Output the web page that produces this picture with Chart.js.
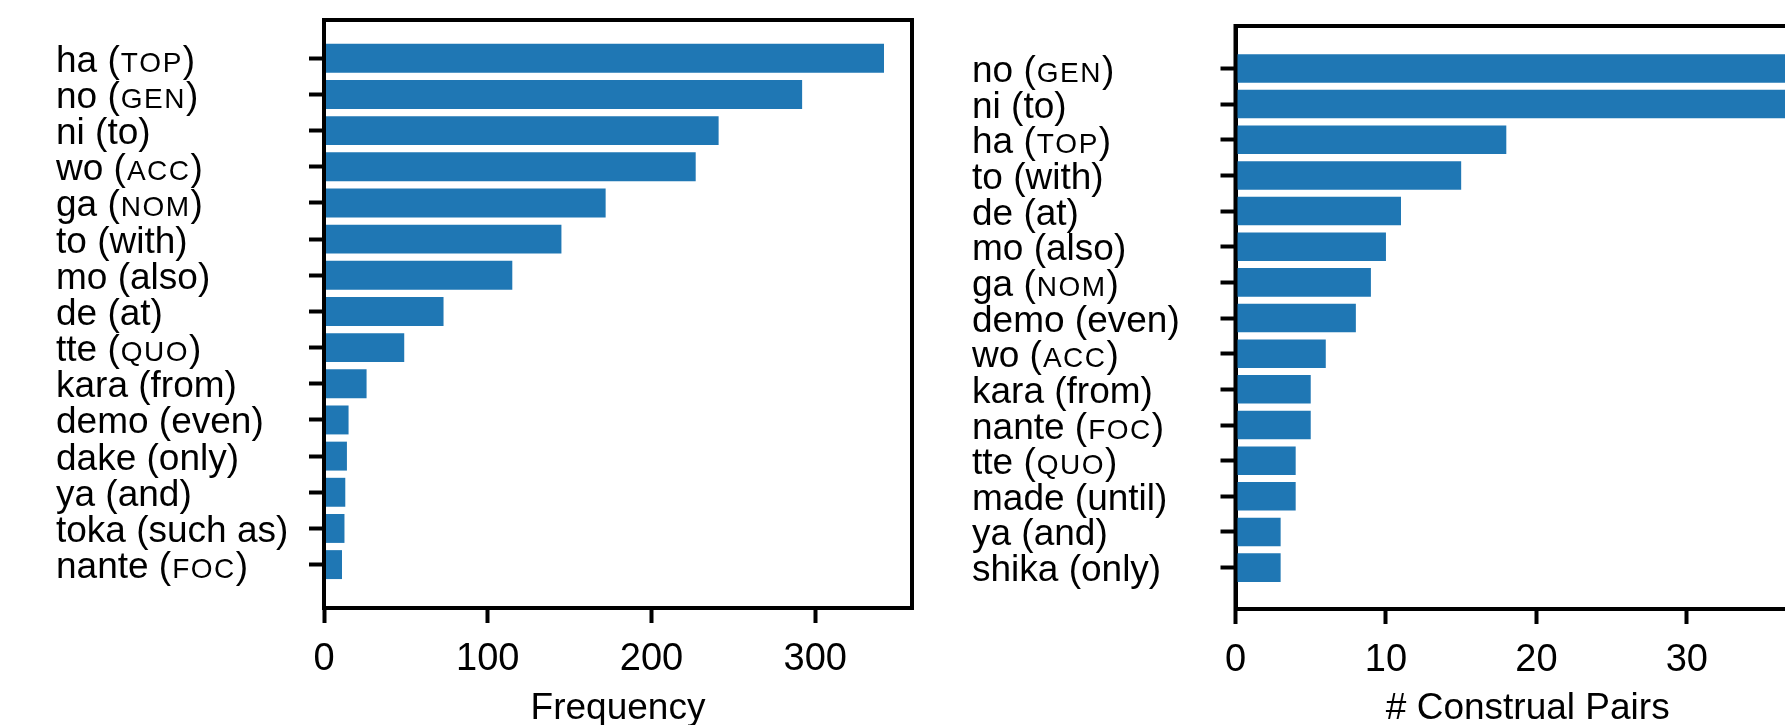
<!DOCTYPE html>
<html>
<head>
<meta charset="utf-8">
<script src="https://cdn.jsdelivr.net/npm/chart.js@4.4.1/dist/chart.umd.min.js"></script>
<style>
    html, body { margin: 0; padding: 0; background: #fff; overflow: hidden; width: 1785px; height: 725px; }
    canvas { position: absolute; top: 0; }
    #freqChart { left: 0; }
    #pairChart { left: 940px; }
</style>
</head>
<body>
<canvas id="freqChart" width="940" height="731"></canvas>
<canvas id="pairChart" width="940" height="731"></canvas>
<script>
// --- DATA ---
const freqLabels = ['ha (TOP)', 'no (GEN)', 'ni (to)', 'wo (ACC)', 'ga (NOM)', 'to (with)', 'mo (also)', 'de (at)',
    'tte (QUO)', 'kara (from)', 'demo (even)', 'dake (only)', 'ya (and)', 'toka (such as)', 'nante (FOC)'];
const freqValues = [342, 292, 241, 227, 172, 145, 115, 73, 49, 26, 15, 14, 13, 12.5, 11];
const freqTicks = [0, 100, 200, 300];

const pairLabels = ['no (GEN)', 'ni (to)', 'ha (TOP)', 'to (with)', 'de (at)', 'mo (also)', 'ga (NOM)', 'demo (even)',
    'wo (ACC)', 'kara (from)', 'nante (FOC)', 'tte (QUO)', 'made (until)', 'ya (and)', 'shika (only)'];
const pairValues = [37, 37, 18, 15, 11, 10, 9, 8, 6, 5, 5, 4, 4, 3, 3];
const pairTicks = [0, 10, 20, 30];

const FONT = '"Liberation Sans", Arial, Helvetica, sans-serif';
Chart.defaults.font.family = FONT;
Chart.defaults.color = '#000';

// labels with small caps for the glosses (upper-case runs drawn smaller, a bit tracked)
const smallCapsLabels = {
    id: 'smallCapsLabels',
    afterDraw(chart, args, opts) {
        const ctx = chart.ctx;
        const yScale = chart.scales.y;
        ctx.save();
        ctx.fillStyle = '#000';
        ctx.textBaseline = 'alphabetic';
        ctx.textAlign = 'left';
        opts.labels.forEach((label, i) => {
            let x = opts.x;
            const y = yScale.getPixelForValue(i) + 13.5;
            label.split(/([A-Z]+)/).forEach((part, k) => {
                if (!part) return;
                if (k % 2 === 1) {
                    ctx.font = '28px ' + FONT;
                    x += 1;
                    for (const ch of part) {
                        ctx.fillText(ch, x, y);
                        x += ctx.measureText(ch).width + 1.5;
                    }
                } else {
                    ctx.font = '37px ' + FONT;
                    ctx.fillText(part, x, y);
                    x += ctx.measureText(part).width;
                }
            });
        });
        ctx.restore();
    }
};

// full box around the plot, drawn over the bars
const frameBox = {
    id: 'frameBox',
    afterDatasetsDraw(chart) {
        const a = chart.chartArea;
        const ctx = chart.ctx;
        ctx.save();
        ctx.strokeStyle = '#000';
        ctx.lineWidth = 4;
        ctx.strokeRect(a.left, a.top, a.right - a.left, a.bottom - a.top);
        ctx.restore();
    }
};

function makeChart(id, labels, values, xTicks, xTitle, g) {
    new Chart(document.getElementById(id), {
        type: 'bar',
        data: {
            datasets: [{
                data: values.map((v, i) => ({ x: v, y: i })),
                backgroundColor: '#1f77b4',
                borderWidth: 0,
                barPercentage: 0.8,
                categoryPercentage: 1.0
            }]
        },
        options: {
            indexAxis: 'y',
            responsive: false,
            animation: false,
            devicePixelRatio: 1,
            layout: { padding: { top: g.top, right: g.right, left: 0, bottom: 0 } },
            plugins: {
                legend: { display: false },
                tooltip: { enabled: false },
                smallCapsLabels: { labels: labels, x: g.labelX }
            },
            scales: {
                x: {
                    type: 'linear',
                    min: 0,
                    max: Math.max(...values) * 1.05,
                    afterBuildTicks: s => { s.ticks = xTicks.map(v => ({ value: v })); },
                    afterFit: s => { s.height = g.xHeight; },
                    grid: { drawOnChartArea: false, tickLength: 15, tickWidth: 4, tickColor: '#000' },
                    border: { display: true, color: '#000', width: 4 },
                    ticks: { font: { size: 38 }, color: '#000', padding: 14, maxRotation: 0 },
                    title: { display: true, text: xTitle, font: { size: 37 }, color: '#000', padding: { top: 0, bottom: 0 } }
                },
                y: {
                    type: 'linear',
                    reverse: true,
                    offset: false,
                    min: g.yMin,
                    max: g.yMax,
                    afterBuildTicks: s => { s.ticks = labels.map((l, i) => ({ value: i })); },
                    afterFit: s => { s.width = g.yWidth; },
                    grid: { offset: false, drawOnChartArea: false, tickLength: 15, tickWidth: 4, tickColor: '#000' },
                    border: { display: true, color: '#000', width: 4 },
                    ticks: { display: false }
                }
            }
        },
        plugins: [smallCapsLabels, frameBox]
    });
}

makeChart('freqChart', freqLabels, freqValues, freqTicks, 'Frequency',
    { top: 20, right: 28, xHeight: 123, yWidth: 324, yMin: -1.06, yMax: 15.2, labelX: 56 });
makeChart('pairChart', pairLabels, pairValues, pairTicks, '# Construal Pairs',
    { top: 26, right: 60, xHeight: 122, yWidth: 295.5, yMin: -1.19, yMax: 15.16, labelX: 32 });
</script>
</body>
</html>
